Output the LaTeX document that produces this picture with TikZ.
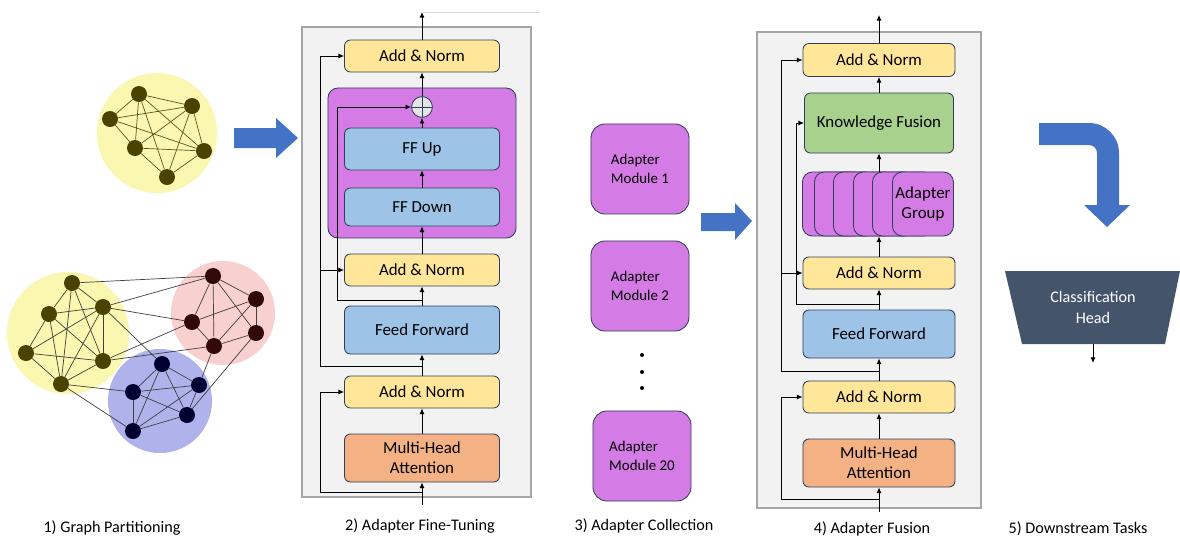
\documentclass[tikz,border=0pt]{standalone}
\usepackage{fontspec}
\setmainfont{Carlito}
\usetikzlibrary{arrows.meta}

\definecolor{normfill}{HTML}{FFE699}
\definecolor{fffill}{HTML}{9DC3E6}
\definecolor{attnfill}{HTML}{F4B183}
\definecolor{adptfill}{HTML}{D57BE5}
\definecolor{fusefill}{HTML}{A9D18E}
\definecolor{boxline}{HTML}{2F3E5A}
\definecolor{panelfill}{HTML}{F2F2F2}
\definecolor{panelline}{HTML}{A6A6A6}
\definecolor{arrowblue}{HTML}{4472C4}
\definecolor{headfill}{HTML}{44546A}
\definecolor{ylwbg}{HTML}{FAF7B0}
\definecolor{pinkbg}{HTML}{F8D0D0}
\definecolor{bluebg}{HTML}{B0B2EC}
\definecolor{ylwdot}{HTML}{4A4300}
\definecolor{pinkdot}{HTML}{320808}
\definecolor{bluedot}{HTML}{000030}

\tikzset{
  blk/.style={draw=boxline, line width=0.6pt, rounded corners=0.15cm, minimum width=3.875cm, align=center, font=\fontsize{12}{14}\selectfont},
  addnorm/.style={blk, fill=normfill, minimum height=0.8cm},
  ffwd/.style={blk, fill=fffill},
  attn/.style={blk, fill=attnfill, minimum height=1.2cm},
  panel/.style={draw=panelline, line width=1pt, fill=panelfill, minimum width=#1},
  card/.style={draw=boxline, line width=0.6pt, fill=adptfill, rounded corners=0.25cm, minimum width=1.525cm, minimum height=1.6cm, inner sep=0pt},
  module/.style={draw=boxline, line width=0.6pt, fill=adptfill, rounded corners=0.35cm, minimum width=2.45cm, minimum height=2.25cm, align=left, font=\fontsize{10.6}{13.5}\selectfont},
  arr/.style={-{Latex[length=4pt,width=3.5pt]}, line width=0.6pt},
  disc/.style={circle, inner sep=0pt},
  dot/.style={circle, inner sep=0pt, minimum size=0.4cm},
  link/.style={draw=black!75, line width=0.5pt},
  steplabel/.style={font=\fontsize{11.5}{14}\selectfont}
}

\begin{document}
\begin{tikzpicture}[x=0.025cm, y=-0.025cm]
\useasboundingbox (0,0) rectangle (1180,541);

% 1) Graph partitioning
  \node[disc, fill=ylwbg, minimum size=3cm] (topc) at (157,133) {}; % whole graph
  \node[dot, fill=ylwdot] (a1) at (139,94) {};
  \node[dot, fill=ylwdot] (a2) at (192,106) {};
  \node[dot, fill=ylwdot] (a3) at (110,119) {};
  \node[dot, fill=ylwdot] (a4) at (135,148) {};
  \node[dot, fill=ylwdot] (a5) at (204,151) {};
  \node[dot, fill=ylwdot] (a6) at (167,177) {};
  \foreach \a/\b in {a1/a2,a1/a3,a1/a4,a1/a5,a1/a6,a2/a3,a2/a4,a2/a5,a2/a6,a3/a4,a3/a5,a4/a5,a4/a6,a5/a6}
    \draw[link, draw=ylwdot!70!gray] (\a) -- (\b);

  \node[disc, fill=ylwbg, minimum size=3.05cm] (ylwc) at (68,333) {}; % part 1
  \node[disc, fill=pinkbg, minimum size=2.6cm] (pinkc) at (223,313) {}; % part 2
  \node[disc, fill=bluebg, minimum size=2.6cm] (bluec) at (160,401) {}; % part 3
  \node[dot, fill=ylwdot] (y1) at (72,283) {};
  \node[dot, fill=ylwdot] (y2) at (103,307) {};
  \node[dot, fill=ylwdot] (y3) at (49,314) {};
  \node[dot, fill=ylwdot] (y4) at (26,353) {};
  \node[dot, fill=ylwdot] (y5) at (103,361) {};
  \node[dot, fill=ylwdot] (y6) at (61,384) {};
  \node[dot, fill=pinkdot] (p1) at (213,276) {};
  \node[dot, fill=pinkdot] (p2) at (256,299) {};
  \node[dot, fill=pinkdot] (p3) at (192,322) {};
  \node[dot, fill=pinkdot] (p4) at (256,333) {};
  \node[dot, fill=pinkdot] (p5) at (214,346) {};
  \node[dot, fill=bluedot] (b1) at (162,364) {};
  \node[dot, fill=bluedot] (b2) at (133,392) {};
  \node[dot, fill=bluedot] (b3) at (199,385) {};
  \node[dot, fill=bluedot] (b4) at (187,415) {};
  \node[dot, fill=bluedot] (b5) at (133,431) {};
  \foreach \a/\b in {y1/y2,y1/y3,y1/y5,y1/y6,y2/y3,y2/y4,y2/y5,y2/y6,y3/y4,y3/y5,y3/y6,y4/y5,y4/y6,y5/y6,
                     p1/p2,p1/p3,p1/p4,p1/p5,p2/p3,p2/p4,p2/p5,p3/p5,p4/p5,
                     b1/b2,b1/b3,b1/b4,b1/b5,b2/b3,b2/b4,b2/b5,b3/b4,b3/b5,b4/b5,
                     y1/p1,y2/p1,y2/p3,y2/b1,y5/p3,y5/p5,y6/b2,y6/b5,p5/b3,p4/b4}
    \draw[link] (\a) -- (\b);

  \fill[arrowblue] (234,128) -- (276,128) -- (276,118) -- (298,138) -- (276,158) -- (276,148) -- (234,148) -- cycle; % step 1 -> 2

% 2) Adapter fine-tuning
  \node[panel=5.725cm, minimum height=11.75cm] (pnl2) at (416.5,262) {};
  \node[draw=boxline, line width=0.6pt, fill=adptfill, rounded corners=0.25cm, minimum width=4.7cm, minimum height=3.75cm] (adpt) at (422,163) {};
  \node[addnorm] (ant2) at (422,56) {Add \& Norm};
  \node[circle, draw=boxline, line width=0.6pt, fill=gray!20, minimum size=0.52cm, inner sep=0pt,
        path picture={\draw[boxline, line width=0.6pt] (path picture bounding box.north) -- (path picture bounding box.south)
                      (path picture bounding box.west) -- (path picture bounding box.east);}] (plus) at (422,107) {};
  \node[ffwd, minimum height=1.05cm] (ffu) at (422,149) {FF Up};
  \node[ffwd, minimum height=0.95cm] (ffd) at (422,207) {FF Down};
  \node[addnorm] (an22) at (422,270) {Add \& Norm};
  \node[ffwd, minimum height=1.2cm] (ff2) at (422,330) {Feed Forward};
  \node[addnorm] (an32) at (422,392) {Add \& Norm};
  \node[attn] (mha2) at (422,458) {Multi-Head\\Attention};
  \coordinate (in2) at (422,505);
  \coordinate (out2) at (422,12);
  \coordinate (edge2) at (540,12);
  \coordinate (ja) at (422,366);
  \coordinate (sa) at (320,366);
  \coordinate (jb) at (422,300);
  \coordinate (sb) at (337,300);
  \coordinate (jc) at (422,492);
  \coordinate (sc) at (320,492);
  \draw[arr] (in2) -- (mha2);
  \draw[arr] (mha2) -- (an32);
  \draw[arr] (an32) -- (ff2);
  \draw[arr] (ff2) -- (an22);
  \draw[arr] (an22) -- (ffd);
  \draw[arr] (ffd) -- (ffu);
  \draw[arr] (ffu) -- (plus);
  \draw[arr] (plus) -- (ant2);
  \draw[arr] (ant2) -- (out2);
  \draw[gray!30, line width=0.4pt] (out2) -- (edge2);
  \draw[arr] (jc) -- (sc) |- (an32.west); % residual round attention
  \draw[arr] (ja) -- (sa) |- (ant2.west); % residual to top norm
  \draw[arr] (sa |- an22.west) -- (an22.west);
  \draw[arr] (jb) -- (sb) |- (plus.west); % adapter skip

% 3) Adapter collection
  \node[module] (mod1) at (640,169) {Adapter\\Module 1};
  \node[module] (mod2) at (640,286) {Adapter\\Module 2};
  \node[module] (mod3) at (642,456) {Adapter\\Module 20};
  \node[circle, fill, inner sep=0pt, minimum size=0.1cm] (d1) at (642,355) {};
  \node[circle, fill, inner sep=0pt, minimum size=0.1cm] (d2) at (642,372) {};
  \node[circle, fill, inner sep=0pt, minimum size=0.1cm] (d3) at (642,388) {};

  \fill[arrowblue] (701,213) -- (735,213) -- (735,203) -- (752,221) -- (735,240) -- (735,231) -- (701,231) -- cycle; % step 3 -> 4

% 4) Adapter fusion
  \node[panel=5.6cm, minimum height=11.9cm] (pnl4) at (869,270) {};
  \node[addnorm, minimum width=3.8cm, minimum height=0.825cm] (ant4) at (879,60) {Add \& Norm};
  \node[blk, fill=fusefill, minimum width=3.725cm, minimum height=1.5cm] (kf) at (879,123) {Knowledge Fusion};
  \foreach \x [count=\i] in {802,814,833,853,872}
    \node[card, anchor=west] (g\i) at (\x,204) {};
  \node[card, anchor=west, align=center, font=\fontsize{12}{14}\selectfont] (g6) at (892,204) {Adapter\\Group};
  \node[addnorm, minimum width=3.8cm] (an24) at (879,273) {Add \& Norm};
  \node[ffwd, minimum width=3.8cm, minimum height=1.2cm] (ff4) at (879,334) {Feed Forward};
  \node[addnorm, minimum width=3.8cm] (an34) at (879,397) {Add \& Norm};
  \node[attn, minimum width=3.8cm] (mha4) at (879,463) {Multi-Head\\Attention};
  \coordinate (in4) at (879,512);
  \coordinate (out4) at (879,15);
  \coordinate (ja4) at (879,371);
  \coordinate (sa4) at (781,371);
  \coordinate (jb4) at (879,304);
  \coordinate (sb4) at (796,304);
  \coordinate (jc4) at (879,499);
  \coordinate (sc4) at (781,499);
  \draw[arr] (in4) -- (mha4);
  \draw[arr] (mha4) -- (an34);
  \draw[arr] (an34) -- (ff4);
  \draw[arr] (ff4) -- (an24);
  \draw[arr] (an24) -- (an24 |- g6.south);
  \draw[arr] (kf |- g6.north) -- (kf);
  \draw[arr] (kf) -- (ant4);
  \draw[arr] (ant4) -- (out4);
  \draw[arr] (jc4) -- (sc4) |- (an34.west); % residual round attention
  \draw[arr] (ja4) -- (sa4) |- (ant4.west); % residual to top norm
  \draw[arr] (sa4 |- an24.west) -- (an24.west);
  \draw[arr] (jb4) -- (sb4) |- (kf.west); % skip into fusion

% 5) Downstream tasks
  \fill[arrowblue] (1039,123) -- (1089,123) arc[start angle=-90, end angle=0, radius=30]
    -- (1119,205) -- (1130,205) -- (1107,227) -- (1084,205) -- (1097,205) -- (1097,153)
    arc[start angle=0, end angle=-90, radius=8] -- (1039,145) -- cycle; % step 4 -> 5
  \fill[headfill] (1005,271) -- (1180,271) -- (1165,344) -- (1022,344) -- cycle;
  \node[text=white, align=center, font=\fontsize{11.5}{15}\selectfont, minimum height=1.825cm] (head) at (1093,307.5) {Classification\\Head};
  \coordinate (out5) at (1093,363);
  \draw[arr] (head.south) -- (out5);

% step titles
  \node[steplabel] (lbl1) at (112,528) {1) Graph Partitioning};
  \node[steplabel] (lbl2) at (420,526) {2) Adapter Fine-Tuning};
  \node[steplabel] (lbl3) at (644,526) {3) Adapter Collection};
  \node[steplabel] (lbl4) at (872,529) {4) Adapter Fusion};
  \node[steplabel] (lbl5) at (1078,529) {5) Downstream Tasks};
\end{tikzpicture}
\end{document}
